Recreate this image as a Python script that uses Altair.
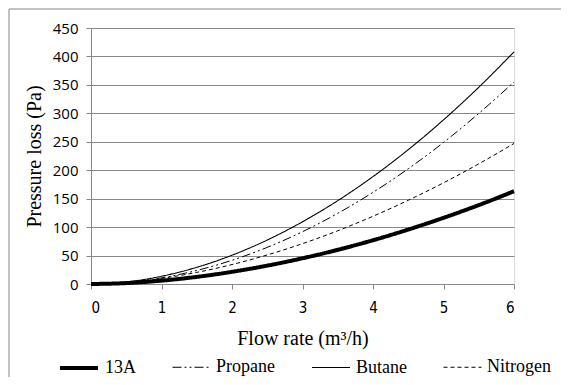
import altair as alt
import pandas as pd

flow = [0, 0.5, 1, 1.5, 2, 2.5, 3, 3.5, 4, 4.5, 5, 5.5, 6]
loss_13a = [0, 1.6, 5.9, 12.5, 21.4, 32.3, 45.2, 60.1, 76.9, 95.7, 116.3, 138.7, 163]
loss_propane = [0, 2.8, 10.8, 23.8, 41.7, 64.4, 91.9, 124.2, 161.1, 202.6, 248.8, 299.8, 355]
loss_butane = [0, 3.6, 13.6, 29.3, 50.6, 77.3, 109.3, 146.5, 188.8, 236.1, 288.5, 345.8, 408]
loss_nitrogen = [0, 2.8, 9.8, 20.4, 34.2, 51.1, 70.9, 93.6, 119.1, 147.2, 177.9, 211.2, 247]

series_names = ["13A", "Propane", "Butane", "Nitrogen"]
series_values = [loss_13a, loss_propane, loss_butane, loss_nitrogen]

rows = []
for name, vals in zip(series_names, series_values):
    for xv, yv in zip(flow, vals):
        rows.append({"flow": xv, "loss": yv, "series": name})
df = pd.DataFrame(rows)

narrow = "Liberation Sans Narrow, DejaVu Sans Condensed, sans-serif"
sans = "Open Sans, Noto Sans, sans-serif"
serif = "Liberation Serif, Times New Roman, serif"


def legend():
    return alt.Legend(title=None, orient="none", direction="horizontal",
                      legendX=-33, legendY=319,
                      symbolType="stroke", symbolSize=1444,
                      labelFont=serif, labelFontSize=18,
                      labelColor="black", columnPadding=34,
                      labelOffset=5)


lines = alt.Chart(df).mark_line(interpolate="monotone").encode(
    x=alt.X("flow:Q", scale=alt.Scale(domain=[0, 6], nice=False),
            axis=alt.Axis(values=[0, 1, 2, 3, 4, 5, 6], grid=False,
                          title="Flow rate (m³/h)", titleFont=serif,
                          titleFontSize=20, titleFontWeight="normal",
                          titlePadding=13, titleColor="black",
                          labelFont=narrow, labelFontSize=15, labelColor="black",
                          labelPadding=11, tickSize=5, tickColor="#888",
                          domainColor="#888")),
    y=alt.Y("loss:Q", scale=alt.Scale(domain=[0, 450], nice=False),
            axis=alt.Axis(values=list(range(0, 451, 50)), grid=True,
                          gridColor="#888", title="Pressure loss (Pa)",
                          titleFont=serif, titleFontSize=20,
                          titleFontWeight="normal", titleColor="black",
                          titlePadding=8,
                          labelFont=sans, labelFontSize=15, labelColor="black",
                          labelPadding=8, tickSize=5, tickColor="#888",
                          domainColor="#888")),
    color=alt.Color("series:N", sort=series_names,
                    scale=alt.Scale(domain=series_names,
                                    range=["black", "black", "black", "black"]),
                    legend=legend()),
    strokeDash=alt.StrokeDash("series:N", sort=series_names,
                              scale=alt.Scale(type="ordinal", domain=series_names,
                                              range=[[1, 0], [9, 3, 2, 3, 2, 3], [1, 0], [4, 3]]),
                              legend=legend()),
    strokeWidth=alt.StrokeWidth("series:N", sort=series_names,
                                scale=alt.Scale(type="ordinal", domain=series_names,
                                                range=[4, 1, 1.1, 1]),
                                legend=legend()),
)

border = alt.Chart(alt.Data(values=[{}])).mark_rect(
    fill=None, stroke="#888", strokeWidth=1
).encode(
    x=alt.value(-82), x2=alt.value(480), y=alt.value(-19), y2=alt.value(380)
)

chart = alt.layer(border, lines).properties(
    width=423, height=256,
    autosize=alt.AutoSizeParams(type="none"),
    padding={"left": 83, "top": 20, "right": 47, "bottom": 93},
).configure_view(stroke=None).configure(background="white").configure_legend(
    labelFont=serif, labelFontSize=18, labelColor="black"
)

chart.save("out.html", embed_options={"renderer": "svg", "actions": False})
